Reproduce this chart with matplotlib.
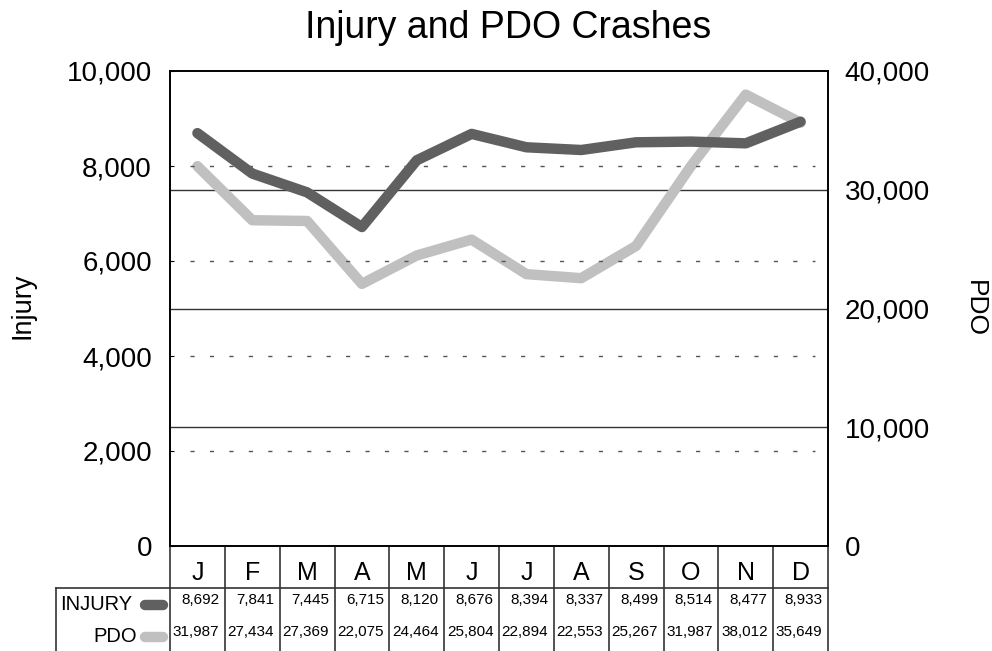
import numpy as np
import matplotlib.pyplot as plt

plt.rcParams['font.family'] = ['Liberation Sans', 'DejaVu Sans']
plt.rcParams['lines.scale_dashes'] = False

# data
months = ['J', 'F', 'M', 'A', 'M', 'J', 'J', 'A', 'S', 'O', 'N', 'D']
injury = [8692, 7841, 7445, 6715, 8120, 8676, 8394, 8337, 8499, 8514, 8477, 8933]
pdo = [31987, 27434, 27369, 22075, 24464, 25804, 22894, 22553, 25267, 31987, 38012, 35649]
left_ticks = [0, 2000, 4000, 6000, 8000, 10000]
right_ticks = [0, 10000, 20000, 30000, 40000]

dark = '#606060'
light = '#c0c0c0'

W, H = 992, 651
fig = plt.figure(figsize=(W / 100, H / 100), dpi=100)
L, R, T, B = 170, 828, 71, 546
ax = fig.add_axes([L / W, (H - B) / H, (R - L) / W, (B - T) / H])
ax2 = ax.twinx()

x = np.arange(len(months)) + 0.5
ax.set_xlim(0, 12)
ax.set_ylim(0, 10000)
ax2.set_ylim(0, 40000)

# gridlines: dotted for left axis, solid for right axis
for v in left_ticks[1:-1]:
    ax.axhline(v, xmin=0.03, xmax=0.98, color='#555555', lw=1.0,
               linestyle=(0, (3, 11)), zorder=1)
for v in right_ticks[1:-1]:
    ax2.axhline(v, color='#333333', lw=1.0, zorder=1)

ax2.plot(x, pdo, color=light, lw=7.5, solid_capstyle='round',
         solid_joinstyle='round', zorder=3)
ax.set_zorder(ax2.get_zorder() + 1)
ax.patch.set_visible(False)
ax.plot(x, injury, color=dark, lw=7.5, solid_capstyle='round',
        solid_joinstyle='round', zorder=4)

ax.set_xticks([])
ax.set_yticks(left_ticks)
ax.set_yticklabels([f'{v:,}' for v in left_ticks])
ax2.set_yticks(right_ticks)
ax2.set_yticklabels([f'{v:,}' for v in right_ticks])
ax.tick_params(axis='y', length=3, direction='in', pad=13, labelsize=20)
ax2.tick_params(axis='y', length=0, pad=12, labelsize=20)
for a in (ax, ax2):
    for s in a.spines.values():
        s.set_linewidth(1.2)
        s.set_color('black')

fig.text(508 / W, 1 - 38 / H, 'Injury and PDO Crashes', fontsize=27,
         ha='center', va='baseline')
fig.text(23 / W, 1 - 306 / H, 'Injury', rotation=90, fontsize=19.5,
         ha='center', va='center')
fig.text(975 / W, 1 - 308 / H, 'PDO', rotation=270, fontsize=19,
         ha='center', va='center')

# data table below the chart
tab = fig.add_axes([L / W, 0, (R - L) / W, (H - B) / H])
tab.set_xlim(0, 12)
tab.set_ylim(0, H - B)
tab.axis('off')
lab_left = (56 - L) / ((R - L) / 12)
for k in range(13):
    tab.plot([k, k], [0, H - B], color='#333333', lw=1.2, clip_on=False)
tab.plot([lab_left, 12], [63, 63], color='#333333', lw=1.2, clip_on=False)
tab.plot([lab_left, lab_left], [0, 63], color='#333333', lw=1.2, clip_on=False)

for i, m in enumerate(months):
    tab.text(x[i], 78, m, fontsize=18, ha='center', va='center')
    tab.text(i + 0.9, 51, f'{injury[i]:,}', fontsize=11, ha='right', va='center')
    tab.text(i + 0.9, 19, f'{pdo[i]:,}', fontsize=11, ha='right', va='center')

tab.text(-0.69, 46, 'INJURY', fontsize=14.5, ha='right', va='center')
tab.text(-0.6, 14, 'PDO', fontsize=14.5, ha='right', va='center')
tab.plot([-0.46, -0.13], [46, 46], color=dark, lw=7.5, solid_capstyle='round', clip_on=False)
tab.plot([-0.46, -0.13], [14, 14], color=light, lw=7.5, solid_capstyle='round', clip_on=False)

fig.savefig('out.png', dpi=100)
